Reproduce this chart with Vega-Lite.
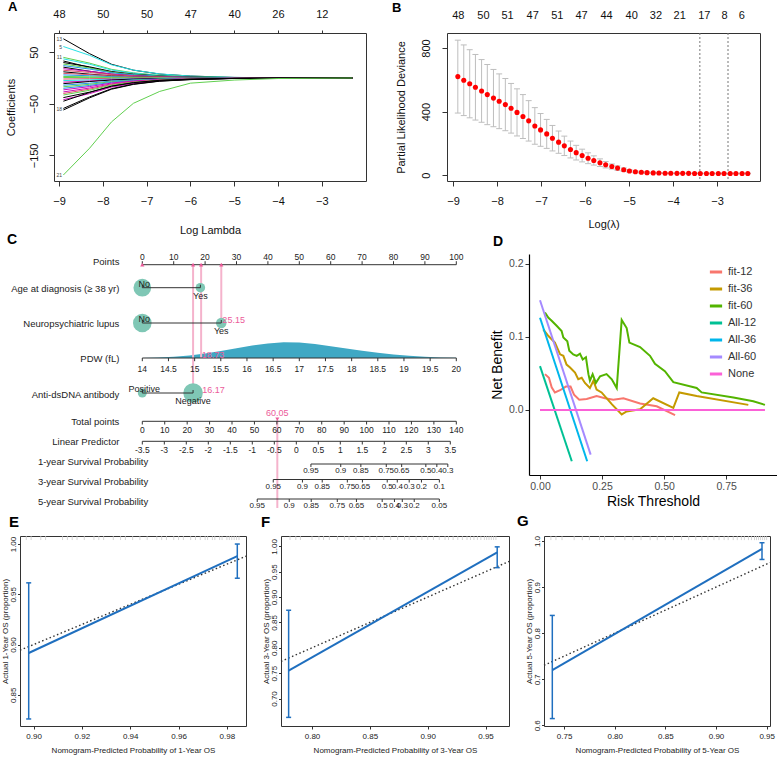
{
"$schema": "https://vega.github.io/schema/vega-lite/v6.json",
"background": "white",
"padding": {"left": 1, "top": 0, "right": 0, "bottom": 0},
"config": {
  "font": "Liberation Sans",
  "view": {"stroke": null},
  "axis": {"grid": false, "titleFontWeight": "normal", "labelColor": "#111", "titleColor": "#111", "tickColor": "#333", "domainColor": "#333", "labelFlush": false, "labelOverlap": false},
  "title": {"fontWeight": "bold", "anchor": "start", "frame": "group", "color": "#000"}
},
"datasets": {
  "lam": [{"k":"a","x":-8.9},{"k":"b","x":-8.3},{"k":"c","x":-7.8},{"k":"d","x":-7.3},{"k":"e","x":-6.7},{"k":"f","x":-6.0},{"k":"g","x":-5.0},{"k":"h","x":-4.0},{"k":"i","x":-2.3}],
  "coef": [
    {"s":1,"col":1,"a":76,"b":47.1,"c":26.6,"d":15.2,"e":7.6,"f":3.8,"g":1.1,"h":0.3,"i":0},
    {"s":2,"col":5,"a":61,"b":43.9,"c":25.6,"d":15.3,"e":7.9,"f":3.7,"g":1.2,"h":0.3,"i":0},
    {"s":3,"col":3,"a":40,"b":28.8,"c":16.8,"d":10,"e":5.2,"f":2.4,"g":0.8,"h":0.2,"i":0},
    {"s":4,"col":5,"a":37,"b":26.6,"c":15.5,"d":9.3,"e":4.8,"f":2.2,"g":0.7,"h":0.2,"i":0},
    {"s":5,"col":1,"a":33,"b":20.5,"c":11.6,"d":6.6,"e":3.3,"f":1.7,"g":0.5,"h":0.1,"i":0},
    {"s":6,"col":1,"a":30,"b":21.6,"c":12.6,"d":7.5,"e":3.9,"f":1.8,"g":0.6,"h":0.2,"i":0},
    {"s":7,"col":3,"a":27,"b":19.4,"c":11.3,"d":6.8,"e":3.5,"f":1.6,"g":0.5,"h":0.1,"i":0},
    {"s":8,"col":4,"a":24,"b":17.3,"c":10.1,"d":6,"e":3.1,"f":1.4,"g":0.5,"h":0.1,"i":0},
    {"s":9,"col":1,"a":21,"b":13,"c":7.4,"d":4.2,"e":2.1,"f":1.1,"g":0.3,"h":0.1,"i":0},
    {"s":10,"col":6,"a":18,"b":13,"c":7.6,"d":4.5,"e":2.3,"f":1.1,"g":0.4,"h":0.1,"i":0},
    {"s":11,"col":2,"a":15,"b":10.8,"c":6.3,"d":3.8,"e":2,"f":0.9,"g":0.3,"h":0.1,"i":0},
    {"s":12,"col":1,"a":12,"b":7.4,"c":4.2,"d":2.4,"e":1.2,"f":0.6,"g":0.2,"h":0,"i":0},
    {"s":13,"col":2,"a":9,"b":6.5,"c":3.8,"d":2.3,"e":1.2,"f":0.5,"g":0.2,"h":0,"i":0},
    {"s":14,"col":4,"a":6,"b":4.3,"c":2.5,"d":1.5,"e":0.8,"f":0.4,"g":0.1,"h":0,"i":0},
    {"s":15,"col":3,"a":3,"b":2.2,"c":1.3,"d":0.8,"e":0.4,"f":0.2,"g":0.1,"h":0,"i":0},
    {"s":16,"col":3,"a":1,"b":0.7,"c":0.4,"d":0.3,"e":0.1,"f":0.1,"g":0,"h":0,"i":0},
    {"s":17,"col":2,"a":-2,"b":-1.4,"c":-0.8,"d":-0.5,"e":-0.3,"f":-0.1,"g":0,"h":0,"i":0},
    {"s":18,"col":5,"a":-5,"b":-3.6,"c":-2.1,"d":-1.3,"e":-0.7,"f":-0.3,"g":-0.1,"h":0,"i":0},
    {"s":19,"col":6,"a":-8,"b":-5.8,"c":-3.4,"d":-2,"e":-1,"f":-0.5,"g":-0.2,"h":0,"i":0},
    {"s":20,"col":1,"a":-11,"b":-6.8,"c":-3.9,"d":-2.2,"e":-1.1,"f":-0.6,"g":-0.2,"h":0,"i":0},
    {"s":21,"col":4,"a":-14,"b":-10.1,"c":-5.9,"d":-3.5,"e":-1.8,"f":-0.8,"g":-0.3,"h":-0.1,"i":0},
    {"s":22,"col":3,"a":-17,"b":-12.2,"c":-7.1,"d":-4.3,"e":-2.2,"f":-1,"g":-0.3,"h":-0.1,"i":0},
    {"s":23,"col":4,"a":-20,"b":-14.4,"c":-8.4,"d":-5,"e":-2.6,"f":-1.2,"g":-0.4,"h":-0.1,"i":0},
    {"s":24,"col":6,"a":-23,"b":-16.6,"c":-9.7,"d":-5.8,"e":-3,"f":-1.4,"g":-0.5,"h":-0.1,"i":0},
    {"s":25,"col":6,"a":-27,"b":-19.4,"c":-11.3,"d":-6.8,"e":-3.5,"f":-1.6,"g":-0.5,"h":-0.1,"i":0},
    {"s":26,"col":2,"a":-30,"b":-21.6,"c":-12.6,"d":-7.5,"e":-3.9,"f":-1.8,"g":-0.6,"h":-0.2,"i":0},
    {"s":27,"col":3,"a":-33,"b":-23.8,"c":-13.9,"d":-8.3,"e":-4.3,"f":-2,"g":-0.7,"h":-0.2,"i":0},
    {"s":28,"col":1,"a":-38,"b":-27.4,"c":-16,"d":-9.5,"e":-4.9,"f":-2.3,"g":-0.8,"h":-0.2,"i":0},
    {"s":29,"col":6,"a":-42,"b":-30.2,"c":-17.6,"d":-10.5,"e":-5.5,"f":-2.5,"g":-0.8,"h":-0.2,"i":0},
    {"s":30,"col":1,"a":-45,"b":-27.9,"c":-15.8,"d":-9,"e":-4.5,"f":-2.3,"g":-0.7,"h":-0.2,"i":0},
    {"s":31,"col":1,"a":-59,"b":-36.6,"c":-20.7,"d":-11.8,"e":-5.9,"f":-3,"g":-0.9,"h":-0.2,"i":0},
    {"s":32,"col":1,"a":-62,"b":-38.4,"c":-21.7,"d":-12.4,"e":-6.2,"f":-3.1,"g":-0.9,"h":-0.2,"i":0},
    {"s":33,"col":3,"a":-188,"b":-136,"c":-85,"d":-49,"e":-26,"f":-10,"g":-4,"h":-1,"i":0}
  ],
  "alab": [{"lab":"13","y":76},{"lab":"5","y":61},{"lab":"11","y":40},{"lab":"18","y":-60},{"lab":"21","y":-188}],
  "adf": [{"x":-9,"df":48},{"x":-8,"df":50},{"x":-7,"df":50},{"x":-6,"df":47},{"x":-5,"df":40},{"x":-4,"df":26},{"x":-3,"df":12}],
  "cvb": [
    {"x":-8.89,"d":620,"lo":391,"hi":849},{"x":-8.755,"d":597,"lo":375,"hi":819},{"x":-8.62,"d":575,"lo":361,"hi":789},
    {"x":-8.49,"d":553,"lo":347,"hi":759},{"x":-8.35,"d":530,"lo":333,"hi":727},{"x":-8.22,"d":507,"lo":318,"hi":696},
    {"x":-8.08,"d":485,"lo":305,"hi":665},{"x":-7.95,"d":465,"lo":293,"hi":637},{"x":-7.81,"d":444,"lo":280,"hi":608},
    {"x":-7.68,"d":421,"lo":265,"hi":577},{"x":-7.545,"d":395,"lo":247,"hi":543},{"x":-7.41,"d":369,"lo":231,"hi":507},
    {"x":-7.28,"d":342,"lo":215,"hi":469},{"x":-7.14,"d":310,"lo":195,"hi":425},{"x":-7.01,"d":285,"lo":182,"hi":388},
    {"x":-6.87,"d":260,"lo":169,"hi":351},{"x":-6.74,"d":233,"lo":153,"hi":313},{"x":-6.6,"d":208,"lo":138,"hi":278},
    {"x":-6.47,"d":185,"lo":124,"hi":246},{"x":-6.33,"d":162,"lo":109,"hi":215},{"x":-6.2,"d":142,"lo":96,"hi":188},
    {"x":-6.065,"d":124,"lo":84,"hi":164},{"x":-5.93,"d":107,"lo":73,"hi":141},{"x":-5.8,"d":93,"lo":64,"hi":122},
    {"x":-5.66,"d":79,"lo":55,"hi":103},{"x":-5.53,"d":66,"lo":46,"hi":86},{"x":-5.39,"d":55,"lo":39,"hi":71},
    {"x":-5.26,"d":45,"lo":31,"hi":59},{"x":-5.12,"d":35,"lo":24,"hi":46},{"x":-4.99,"d":27,"lo":19,"hi":35},
    {"x":-4.855,"d":22,"lo":16,"hi":28},{"x":-4.72,"d":19,"lo":14,"hi":24},{"x":-4.59,"d":16.5,"lo":12.5,"hi":20.5},
    {"x":-4.45,"d":15,"lo":12,"hi":18},{"x":-4.32,"d":14,"lo":11.5,"hi":16.5},{"x":-4.18,"d":13,"lo":11,"hi":15},
    {"x":-4.05,"d":12.5,"lo":10.7,"hi":14.3},{"x":-3.91,"d":12,"lo":10.5,"hi":13.5},{"x":-3.78,"d":12,"lo":10.5,"hi":13.5},
    {"x":-3.645,"d":12,"lo":10.5,"hi":13.5},{"x":-3.51,"d":11.5,"lo":10,"hi":13},{"x":-3.38,"d":11.5,"lo":10,"hi":13},
    {"x":-3.24,"d":11,"lo":9.5,"hi":12.5},{"x":-3.11,"d":11,"lo":9.5,"hi":12.5},{"x":-2.97,"d":11,"lo":9.5,"hi":12.5},
    {"x":-2.84,"d":11,"lo":9.5,"hi":12.5},{"x":-2.7,"d":11,"lo":9.5,"hi":12.5},{"x":-2.57,"d":11,"lo":9.5,"hi":12.5},
    {"x":-2.43,"d":11,"lo":9.5,"hi":12.5},{"x":-2.3,"d":11,"lo":9.5,"hi":12.5}
  ],
  "bdf": [{"x":-8.89,"df":48},{"x":-8.32,"df":50},{"x":-7.77,"df":51},{"x":-7.2,"df":47},{"x":-6.64,"df":51},{"x":-6.09,"df":47},{"x":-5.52,"df":44},{"x":-4.95,"df":40},{"x":-4.4,"df":32},{"x":-3.86,"df":21},{"x":-3.3,"df":17},{"x":-2.84,"df":8},{"x":-2.45,"df":6}],
  "bvl": [{"x":-3.39},{"x":-2.75}],
  "nlabel": [
    {"text":"Points","ty":0.8,"kind":"main"},
    {"text":"Age at diagnosis (≥ 38 yr)","ty":3.5,"kind":"main"},
    {"text":"Neuropsychiatric lupus","ty":7.0,"kind":"main"},
    {"text":"PDW (fL)","ty":10.5,"kind":"main"},
    {"text":"Anti-dsDNA antibody","ty":14.1,"kind":"main"},
    {"text":"Total points","ty":16.8,"kind":"main"},
    {"text":"Linear Predictor","ty":18.8,"kind":"main"},
    {"text":"1-year Survival Probability","ty":20.8,"kind":"surv"},
    {"text":"3-year Survival Probability","ty":22.8,"kind":"surv"},
    {"text":"5-year Survival Probability","ty":24.8,"kind":"surv"}
  ],
  "naxis": [
    {"row":"Points","kind":"main","line":1.07,"tend":0.72,"tly":0.25,"from":0,"to":100},
    {"row":"PDW","kind":"main","line":10.4,"tend":10.72,"tly":11.45,"from":0,"to":100},
    {"row":"Total","kind":"main","line":16.73,"tend":17.05,"tly":17.55,"from":0,"to":100},
    {"row":"LP","kind":"main","line":18.73,"tend":19.05,"tly":19.55,"from":0,"to":98.09},
    {"row":"Y1","kind":"surv","line":21.0,"tend":21.3,"tly":21.7,"from":53.7,"to":97.3},
    {"row":"Y3","kind":"surv","line":22.55,"tend":22.85,"tly":23.25,"from":41.7,"to":94.6},
    {"row":"Y5","kind":"surv","line":24.5,"tend":24.8,"tly":25.2,"from":36.6,"to":94.6}
  ],
  "ntick": [
    {"row":"Points","pos":0,"lab":"0"},{"row":"Points","pos":10,"lab":"10"},{"row":"Points","pos":20,"lab":"20"},{"row":"Points","pos":30,"lab":"30"},{"row":"Points","pos":40,"lab":"40"},{"row":"Points","pos":50,"lab":"50"},{"row":"Points","pos":60,"lab":"60"},{"row":"Points","pos":70,"lab":"70"},{"row":"Points","pos":80,"lab":"80"},{"row":"Points","pos":90,"lab":"90"},{"row":"Points","pos":100,"lab":"100"},
    {"row":"PDW","pos":0,"lab":"14"},{"row":"PDW","pos":8.33,"lab":"14.5"},{"row":"PDW","pos":16.67,"lab":"15"},{"row":"PDW","pos":25,"lab":"15.5"},{"row":"PDW","pos":33.33,"lab":"16"},{"row":"PDW","pos":41.67,"lab":"16.5"},{"row":"PDW","pos":50,"lab":"17"},{"row":"PDW","pos":58.33,"lab":"17.5"},{"row":"PDW","pos":66.67,"lab":"18"},{"row":"PDW","pos":75,"lab":"18.5"},{"row":"PDW","pos":83.33,"lab":"19"},{"row":"PDW","pos":91.67,"lab":"19.5"},{"row":"PDW","pos":100,"lab":"20"},
    {"row":"Total","pos":0,"lab":"0"},{"row":"Total","pos":7.14,"lab":"10"},{"row":"Total","pos":14.29,"lab":"20"},{"row":"Total","pos":21.43,"lab":"30"},{"row":"Total","pos":28.57,"lab":"40"},{"row":"Total","pos":35.71,"lab":"50"},{"row":"Total","pos":42.86,"lab":"60"},{"row":"Total","pos":50,"lab":"70"},{"row":"Total","pos":57.14,"lab":"80"},{"row":"Total","pos":64.29,"lab":"90"},{"row":"Total","pos":71.43,"lab":"100"},{"row":"Total","pos":78.57,"lab":"110"},{"row":"Total","pos":85.71,"lab":"120"},{"row":"Total","pos":92.86,"lab":"130"},{"row":"Total","pos":100,"lab":"140"},
    {"row":"LP","pos":0,"lab":"-3.5"},{"row":"LP","pos":7.01,"lab":"-3"},{"row":"LP","pos":14.01,"lab":"-2.5"},{"row":"LP","pos":21.02,"lab":"-2"},{"row":"LP","pos":28.03,"lab":"-1.5"},{"row":"LP","pos":35.03,"lab":"-1"},{"row":"LP","pos":42.04,"lab":"-0.5"},{"row":"LP","pos":49.05,"lab":"0"},{"row":"LP","pos":56.05,"lab":"0.5"},{"row":"LP","pos":63.06,"lab":"1"},{"row":"LP","pos":70.06,"lab":"1.5"},{"row":"LP","pos":77.07,"lab":"2"},{"row":"LP","pos":84.08,"lab":"2.5"},{"row":"LP","pos":91.08,"lab":"3"},{"row":"LP","pos":98.09,"lab":"3.5"},
    {"row":"Y1","pos":53.7,"lab":"0.95"},{"row":"Y1","pos":63.2,"lab":"0.9"},{"row":"Y1","pos":69.6,"lab":"0.85"},{"row":"Y1","pos":77.7,"lab":"0.75"},{"row":"Y1","pos":82.6,"lab":"0.65"},{"row":"Y1","pos":90.3,"lab":"0.5"},{"row":"Y1","pos":93.8,"lab":"0.4"},{"row":"Y1","pos":97.3,"lab":"0.3"},
    {"row":"Y3","pos":41.7,"lab":"0.95"},{"row":"Y3","pos":51.0,"lab":"0.9"},{"row":"Y3","pos":57.3,"lab":"0.85"},{"row":"Y3","pos":65.3,"lab":"0.75"},{"row":"Y3","pos":70.1,"lab":"0.65"},{"row":"Y3","pos":78.0,"lab":"0.5"},{"row":"Y3","pos":81.2,"lab":"0.4"},{"row":"Y3","pos":85.0,"lab":"0.3"},{"row":"Y3","pos":88.9,"lab":"0.2"},{"row":"Y3","pos":94.6,"lab":"0.1"},
    {"row":"Y5","pos":36.6,"lab":"0.95"},{"row":"Y5","pos":46.8,"lab":"0.9"},{"row":"Y5","pos":53.8,"lab":"0.85"},{"row":"Y5","pos":62.1,"lab":"0.75"},{"row":"Y5","pos":68.2,"lab":"0.65"},{"row":"Y5","pos":76.4,"lab":"0.5"},{"row":"Y5","pos":80.3,"lab":"0.4"},{"row":"Y5","pos":82.8,"lab":"0.3"},{"row":"Y5","pos":86.6,"lab":"0.2"},{"row":"Y5","pos":94.6,"lab":"0.05"}
  ],
  "ncat": [
    {"row":"Age","line":3.37,"pos":0,"n":314,"text":"No","side":"above"},
    {"row":"Age","line":3.37,"pos":18.5,"n":90,"text":"Yes","side":"below"},
    {"row":"Neuro","line":6.9,"pos":0,"n":346,"text":"No","side":"above"},
    {"row":"Neuro","line":6.9,"pos":25.15,"n":110,"text":"Yes","side":"below"},
    {"row":"Anti","line":13.9,"pos":0,"n":80,"text":"Positive","side":"above"},
    {"row":"Anti","line":13.9,"pos":16.17,"n":380,"text":"Negative","side":"below"}
  ],
  "nseg": [{"line":3.37,"from":0,"to":18.5},{"line":6.9,"from":0,"to":25.15},{"line":13.9,"from":0,"to":16.17}],
  "ndens": [{"pos":0,"top":10.4},{"pos":5,"top":10.35},{"pos":10,"top":10.28},{"pos":15,"top":10.15},{"pos":20,"top":9.95},{"pos":25,"top":9.7},{"pos":30,"top":9.42},{"pos":35,"top":9.15},{"pos":40,"top":8.94},{"pos":45,"top":8.82},{"pos":50,"top":8.85},{"pos":55,"top":9.0},{"pos":60,"top":9.22},{"pos":65,"top":9.45},{"pos":70,"top":9.68},{"pos":75,"top":9.88},{"pos":80,"top":10.04},{"pos":85,"top":10.17},{"pos":90,"top":10.27},{"pos":95,"top":10.34},{"pos":100,"top":10.38}],
  "npl": [{"pos":16.17,"y1":1.07,"y2":13.9},{"pos":18.73,"y1":1.07,"y2":10.4},{"pos":25.15,"y1":1.07,"y2":6.9},{"pos":43.0,"y1":16.6,"y2":25.4}],
  "npt": [{"pos":0,"line":1.07},{"pos":16.17,"line":1.07},{"pos":18.73,"line":1.07},{"pos":25.15,"line":1.07}],
  "nptext": [{"tx":25.5,"line":6.9,"text":"25.15"},{"tx":18.9,"line":10.4,"text":"18.73"},{"tx":19.1,"line":13.9,"text":"16.17"}],
  "ntot": [{"pos":43.0,"line":16.73,"text":"60.05"}],
  "dca": [
    {"m":"fit-12","t":0.02,"nb":0.049},{"m":"fit-12","t":0.036,"nb":0.044},{"m":"fit-12","t":0.047,"nb":0.031},{"m":"fit-12","t":0.06,"nb":0.024},{"m":"fit-12","t":0.081,"nb":0.027},{"m":"fit-12","t":0.104,"nb":0.032},{"m":"fit-12","t":0.123,"nb":0.032},{"m":"fit-12","t":0.137,"nb":0.021},{"m":"fit-12","t":0.158,"nb":0.014},{"m":"fit-12","t":0.188,"nb":0.015},{"m":"fit-12","t":0.228,"nb":0.019},{"m":"fit-12","t":0.262,"nb":0.016},{"m":"fit-12","t":0.295,"nb":0.014},{"m":"fit-12","t":0.336,"nb":0.016},{"m":"fit-12","t":0.403,"nb":0.009},{"m":"fit-12","t":0.47,"nb":0.005},{"m":"fit-12","t":0.544,"nb":-0.007},
    {"m":"fit-36","t":0.013,"nb":0.110},{"m":"fit-36","t":0.034,"nb":0.101},{"m":"fit-36","t":0.06,"nb":0.092},{"m":"fit-36","t":0.081,"nb":0.076},{"m":"fit-36","t":0.094,"nb":0.074},{"m":"fit-36","t":0.107,"nb":0.062},{"m":"fit-36","t":0.121,"nb":0.058},{"m":"fit-36","t":0.141,"nb":0.051},{"m":"fit-36","t":0.154,"nb":0.042},{"m":"fit-36","t":0.168,"nb":0.044},{"m":"fit-36","t":0.181,"nb":0.037},{"m":"fit-36","t":0.201,"nb":0.030},{"m":"fit-36","t":0.215,"nb":0.040},{"m":"fit-36","t":0.228,"nb":0.028},{"m":"fit-36","t":0.248,"nb":0.024},{"m":"fit-36","t":0.289,"nb":0.008},{"m":"fit-36","t":0.329,"nb":-0.006},{"m":"fit-36","t":0.349,"nb":-0.002},{"m":"fit-36","t":0.403,"nb":0.001},{"m":"fit-36","t":0.456,"nb":0.016},{"m":"fit-36","t":0.537,"nb":0.003},{"m":"fit-36","t":0.561,"nb":0.024},{"m":"fit-36","t":0.631,"nb":0.019},{"m":"fit-36","t":0.839,"nb":0.007},
    {"m":"fit-60","t":0.020,"nb":0.133},{"m":"fit-60","t":0.034,"nb":0.126},{"m":"fit-60","t":0.047,"nb":0.122},{"m":"fit-60","t":0.067,"nb":0.115},{"m":"fit-60","t":0.087,"nb":0.108},{"m":"fit-60","t":0.094,"nb":0.099},{"m":"fit-60","t":0.110,"nb":0.094},{"m":"fit-60","t":0.118,"nb":0.081},{"m":"fit-60","t":0.134,"nb":0.076},{"m":"fit-60","t":0.148,"nb":0.074},{"m":"fit-60","t":0.161,"nb":0.077},{"m":"fit-60","t":0.172,"nb":0.069},{"m":"fit-60","t":0.185,"nb":0.072},{"m":"fit-60","t":0.195,"nb":0.049},{"m":"fit-60","t":0.201,"nb":0.040},{"m":"fit-60","t":0.212,"nb":0.049},{"m":"fit-60","t":0.225,"nb":0.037},{"m":"fit-60","t":0.242,"nb":0.046},{"m":"fit-60","t":0.268,"nb":0.049},{"m":"fit-60","t":0.289,"nb":0.042},{"m":"fit-60","t":0.309,"nb":0.030},{"m":"fit-60","t":0.329,"nb":0.123},{"m":"fit-60","t":0.349,"nb":0.112},{"m":"fit-60","t":0.360,"nb":0.092},{"m":"fit-60","t":0.403,"nb":0.086},{"m":"fit-60","t":0.443,"nb":0.074},{"m":"fit-60","t":0.463,"nb":0.063},{"m":"fit-60","t":0.503,"nb":0.053},{"m":"fit-60","t":0.537,"nb":0.038},{"m":"fit-60","t":0.631,"nb":0.030},{"m":"fit-60","t":0.651,"nb":0.024},{"m":"fit-60","t":0.779,"nb":0.017},{"m":"fit-60","t":0.859,"nb":0.012},{"m":"fit-60","t":0.906,"nb":0.007},
    {"m":"All-12","t":0,"nb":0.06},{"m":"All-12","t":0.128,"nb":-0.07},
    {"m":"All-36","t":0,"nb":0.126},{"m":"All-36","t":0.19,"nb":-0.07},
    {"m":"All-60","t":0,"nb":0.15},{"m":"All-60","t":0.204,"nb":-0.061},
    {"m":"None","t":0,"nb":0},{"m":"None","t":0.906,"nb":0}
  ],
  "cal": [
    {"p":"E","x":0.898,"y":0.8916,"lo":0.826,"hi":0.9614},{"p":"E","x":0.9843,"y":0.988,"lo":0.966,"hi":1.0},
    {"p":"F","x":0.7798,"y":0.755,"lo":0.6628,"hi":0.874},{"p":"F","x":0.9601,"y":0.988,"lo":0.958,"hi":0.999},
    {"p":"G","x":0.7384,"y":0.72,"lo":0.6146,"hi":0.8385},{"p":"G","x":0.9454,"y":0.983,"lo":0.96,"hi":0.9963}
  ],
  "ideal": [{"p":"E","v":0.8944},{"p":"E","v":0.9879},{"p":"F","v":0.7732},{"p":"F","v":0.9703},{"p":"G","v":0.7302},{"p":"G","v":0.9533}],
  "rug": [
    {"p":"E","x":0.897},{"p":"E","x":0.899},{"p":"E","x":0.903},{"p":"E","x":0.905},{"p":"E","x":0.912},{"p":"E","x":0.914},{"p":"E","x":0.916},{"p":"E","x":0.918},{"p":"E","x":0.921},{"p":"E","x":0.925},{"p":"E","x":0.927},{"p":"E","x":0.929},{"p":"E","x":0.933},{"p":"E","x":0.936},{"p":"E","x":0.938},{"p":"E","x":0.941},{"p":"E","x":0.944},{"p":"E","x":0.947},{"p":"E","x":0.951},{"p":"E","x":0.953},{"p":"E","x":0.955},{"p":"E","x":0.958},{"p":"E","x":0.96},{"p":"E","x":0.962},{"p":"E","x":0.965},{"p":"E","x":0.967},{"p":"E","x":0.969},{"p":"E","x":0.971},{"p":"E","x":0.972},{"p":"E","x":0.974},{"p":"E","x":0.975},{"p":"E","x":0.977},{"p":"E","x":0.978},{"p":"E","x":0.98},{"p":"E","x":0.981},{"p":"E","x":0.982},{"p":"E","x":0.983},{"p":"E","x":0.984},{"p":"E","x":0.985},
    {"p":"F","x":0.781},{"p":"F","x":0.786},{"p":"F","x":0.79},{"p":"F","x":0.8},{"p":"F","x":0.806},{"p":"F","x":0.81},{"p":"F","x":0.815},{"p":"F","x":0.822},{"p":"F","x":0.828},{"p":"F","x":0.832},{"p":"F","x":0.838},{"p":"F","x":0.845},{"p":"F","x":0.85},{"p":"F","x":0.856},{"p":"F","x":0.862},{"p":"F","x":0.868},{"p":"F","x":0.874},{"p":"F","x":0.88},{"p":"F","x":0.884},{"p":"F","x":0.89},{"p":"F","x":0.895},{"p":"F","x":0.9},{"p":"F","x":0.905},{"p":"F","x":0.91},{"p":"F","x":0.915},{"p":"F","x":0.918},{"p":"F","x":0.922},{"p":"F","x":0.926},{"p":"F","x":0.93},{"p":"F","x":0.934},{"p":"F","x":0.937},{"p":"F","x":0.94},{"p":"F","x":0.943},{"p":"F","x":0.946},{"p":"F","x":0.949},{"p":"F","x":0.951},{"p":"F","x":0.953},{"p":"F","x":0.955},{"p":"F","x":0.957},{"p":"F","x":0.959},
    {"p":"G","x":0.737},{"p":"G","x":0.742},{"p":"G","x":0.748},{"p":"G","x":0.76},{"p":"G","x":0.768},{"p":"G","x":0.775},{"p":"G","x":0.785},{"p":"G","x":0.79},{"p":"G","x":0.8},{"p":"G","x":0.81},{"p":"G","x":0.818},{"p":"G","x":0.826},{"p":"G","x":0.835},{"p":"G","x":0.842},{"p":"G","x":0.85},{"p":"G","x":0.858},{"p":"G","x":0.866},{"p":"G","x":0.873},{"p":"G","x":0.88},{"p":"G","x":0.886},{"p":"G","x":0.892},{"p":"G","x":0.898},{"p":"G","x":0.903},{"p":"G","x":0.908},{"p":"G","x":0.912},{"p":"G","x":0.917},{"p":"G","x":0.921},{"p":"G","x":0.925},{"p":"G","x":0.928},{"p":"G","x":0.932},{"p":"G","x":0.935},{"p":"G","x":0.938},{"p":"G","x":0.94},{"p":"G","x":0.942},{"p":"G","x":0.944},{"p":"G","x":0.946},{"p":"G","x":0.948},{"p":"G","x":0.95}
  ]
},
"spacing": -4,
"resolve": {"scale": {"color": "independent", "size": "independent"}},
"vconcat": [
 {"hconcat": [
   {"width": 33.3, "height": 148, "data": {"values": []}, "mark": "point"},
   {"width": 312, "height": 148,
    "view": {"stroke": "#333"},
    "title": {"text": "A", "dx": -46, "dy": 10, "offset": 4, "fontSize": 13},
    "layer": [
      {"layer": [
        {"data": {"name": "coef"},
         "transform": [{"fold": ["a","b","c","d","e","f","g","h","i"], "as": ["k","y"]}, {"lookup": "k", "from": {"data": {"name": "lam"}, "key": "k", "fields": ["x"]}}],
         "mark": {"type": "line", "strokeWidth": 1},
         "encoding": {
           "x": {"field": "x", "type": "quantitative", "scale": {"domain": [-9.114, -1.99], "nice": false, "zero": false},
                 "axis": {"values": [-9,-8,-7,-6,-5,-4,-3], "title": "Log Lambda", "domain": false, "tickSize": 5, "labelFontSize": 11, "labelPadding": 9, "titleFontSize": 11, "titlePadding": 18}},
           "y": {"field": "y", "type": "quantitative", "scale": {"domain": [-199.6, 87.2], "nice": false, "zero": false},
                 "axis": {"values": [-150,-100,-50,0,50], "labelExpr": "datum.value == -100 ? '' : datum.label", "title": "Coefficients", "labelAngle": 270, "labelAlign": "center", "labelBaseline": "bottom", "domain": false, "tickSize": 5, "labelFontSize": 11, "labelPadding": 10, "titleFontSize": 11, "titlePadding": 12}},
           "color": {"field": "col", "type": "nominal", "scale": {"domain": [1,2,3,4,5,6], "range": ["#000000","#DF536B","#61D04F","#2297E6","#28E2E5","#CD0BBC"]}, "legend": null},
           "detail": {"field": "s", "type": "nominal"}
         }},
        {"data": {"name": "alab"}, "mark": {"type": "text", "fontSize": 5, "align": "right", "color": "#444"},
         "encoding": {"x": {"datum": -8.93}, "y": {"field": "y", "type": "quantitative", "title": "Coefficients"}, "text": {"field": "lab"}}}
      ]},
      {"data": {"name": "adf"}, "mark": {"type": "point", "opacity": 0},
       "encoding": {"x": {"field": "x", "type": "quantitative", "scale": {"domain": [-9.114, -1.99], "nice": false, "zero": false},
         "axis": {"orient": "top", "values": [-9,-8,-7,-6,-5,-4,-3], "labelExpr": "['48','50','50','47','40','26','12'][datum.value + 9]", "title": null, "domain": false, "tickSize": 3, "labelFontSize": 11, "labelPadding": 11}}}}
    ],
    "resolve": {"scale": {"x": "independent"}}
   },
   {"width": 81, "height": 148, "data": {"values": []}, "mark": "point"},
   {"width": 313, "height": 148,
    "view": {"stroke": "#333"},
    "title": {"text": "B", "dx": -55, "dy": 10, "offset": 4, "fontSize": 13},
    "layer": [
      {"layer": [
        {"data": {"name": "cvb"}, "mark": {"type": "rule", "color": "#BEBEBE", "strokeWidth": 1},
         "encoding": {
           "x": {"field": "x", "type": "quantitative", "scale": {"domain": [-9.136, -2.023], "nice": false, "zero": false},
                 "axis": {"values": [-9,-8,-7,-6,-5,-4,-3], "title": "Log(λ)", "domain": false, "tickSize": 5, "labelFontSize": 11, "labelPadding": 9, "titleFontSize": 11, "titlePadding": 12}},
           "y": {"field": "lo", "type": "quantitative", "scale": {"domain": [-36, 894], "nice": false, "zero": false},
                 "axis": {"values": [0,200,400,600,800], "title": "Partial Likelihood Deviance", "labelAngle": 270, "labelAlign": "center", "labelBaseline": "bottom", "domain": false, "tickSize": 5, "labelFontSize": 11, "labelPadding": 10.5, "titleFontSize": 11, "titlePadding": 14}},
           "y2": {"field": "hi"}
         }},
        {"data": {"name": "cvb"}, "mark": {"type": "point", "shape": "stroke", "color": "#BEBEBE", "size": 36, "strokeWidth": 1, "opacity": 1},
         "encoding": {"x": {"field": "x", "type": "quantitative"}, "y": {"field": "hi", "type": "quantitative", "title": "Partial Likelihood Deviance"}}},
        {"data": {"name": "cvb"}, "mark": {"type": "point", "shape": "stroke", "color": "#BEBEBE", "size": 36, "strokeWidth": 1, "opacity": 1},
         "encoding": {"x": {"field": "x", "type": "quantitative"}, "y": {"field": "lo", "type": "quantitative", "title": "Partial Likelihood Deviance"}}},
        {"data": {"name": "bvl"}, "mark": {"type": "rule", "strokeDash": [2, 2], "color": "#777", "strokeWidth": 1},
         "encoding": {"x": {"field": "x", "type": "quantitative"}}},
        {"data": {"name": "cvb"}, "mark": {"type": "point", "filled": true, "color": "#FF0000", "size": 26, "opacity": 1},
         "encoding": {"x": {"field": "x", "type": "quantitative"}, "y": {"field": "d", "type": "quantitative", "title": "Partial Likelihood Deviance"}}}
      ]},
      {"data": {"name": "bdf"}, "mark": {"type": "point", "opacity": 0},
       "encoding": {"x": {"field": "x", "type": "quantitative", "scale": {"domain": [-9.136, -2.023], "nice": false, "zero": false},
         "axis": {"orient": "top", "values": [-8.89,-8.32,-7.77,-7.2,-6.64,-6.09,-5.52,-4.95,-4.4,-3.86,-3.3,-2.84,-2.45], "labelExpr": "['48','50','51','47','51','47','44','40','32','21','17','8','6'][indexof([-8.89,-8.32,-7.77,-7.2,-6.64,-6.09,-5.52,-4.95,-4.4,-3.86,-3.3,-2.84,-2.45], datum.value)]", "title": null, "domain": false, "ticks": false, "labelFontSize": 11, "labelPadding": 13}}}}
    ],
    "resolve": {"scale": {"x": "independent"}}
   }
 ], "spacing": 0, "bounds": "flush"},
 {"hconcat": [
   {"width": 508.3, "height": 263,
    "title": {"text": "C", "dx": -13, "fontSize": 14, "offset": 6},
    "encoding": {
      "x": {"type": "quantitative", "scale": {"domain": [-38.95, 122.93], "nice": false, "zero": false}, "axis": null},
      "y": {"type": "quantitative", "scale": {"domain": [0, 26.3], "reverse": true, "nice": false, "zero": false}, "axis": null}
    },
    "layer": [
      {"data": {"name": "ndens"}, "mark": {"type": "area", "color": "#3FA8C4", "opacity": 1},
       "encoding": {"x": {"field": "pos", "type": "quantitative"}, "y": {"field": "top", "type": "quantitative"}, "y2": {"datum": 10.4}}},
      {"data": {"name": "npl"}, "mark": {"type": "rule", "color": "#F5B3CC", "strokeWidth": 2},
       "encoding": {"x": {"field": "pos", "type": "quantitative"}, "y": {"field": "y1", "type": "quantitative"}, "y2": {"field": "y2"}}},
      {"data": {"name": "naxis"}, "mark": {"type": "rule", "color": "#333", "strokeWidth": 1},
       "encoding": {"x": {"field": "from", "type": "quantitative"}, "x2": {"field": "to"}, "y": {"field": "line", "type": "quantitative"}}},
      {"data": {"name": "ntick"},
       "transform": [{"lookup": "row", "from": {"data": {"name": "naxis"}, "key": "row", "fields": ["line", "tend", "tly", "kind"]}}],
       "layer": [
         {"mark": {"type": "rule", "color": "#333", "strokeWidth": 1},
          "encoding": {"x": {"field": "pos", "type": "quantitative"}, "y": {"field": "line", "type": "quantitative"}, "y2": {"field": "tend"}}},
         {"transform": [{"filter": "datum.kind == 'main'"}],
          "mark": {"type": "text", "fontSize": 8.5, "baseline": "middle", "color": "#222"},
          "encoding": {"x": {"field": "pos", "type": "quantitative"}, "y": {"field": "tly", "type": "quantitative"}, "text": {"field": "lab"}}},
         {"transform": [{"filter": "datum.kind == 'surv'"}],
          "mark": {"type": "text", "fontSize": 8, "baseline": "middle", "color": "#222"},
          "encoding": {"x": {"field": "pos", "type": "quantitative"}, "y": {"field": "tly", "type": "quantitative"}, "text": {"field": "lab"}}}
       ]},
      {"data": {"name": "ncat"}, "mark": {"type": "point", "filled": true, "color": "#7FC7B5", "opacity": 1},
       "encoding": {"x": {"field": "pos", "type": "quantitative"}, "y": {"field": "line", "type": "quantitative"},
                    "size": {"field": "n", "type": "quantitative", "scale": {"type": "linear", "domain": [0, 400], "range": [0, 400]}, "legend": null}}},
      {"data": {"name": "nseg"}, "mark": {"type": "rule", "color": "#333", "strokeWidth": 1},
       "encoding": {"x": {"field": "from", "type": "quantitative"}, "x2": {"field": "to"}, "y": {"field": "line", "type": "quantitative"}}},
      {"data": {"name": "ncat"}, "mark": {"type": "point", "shape": "M0,-1L0,0", "size": 36, "color": "#333", "strokeWidth": 1, "opacity": 1},
       "encoding": {"x": {"field": "pos", "type": "quantitative"}, "y": {"field": "line", "type": "quantitative"}}},
      {"data": {"name": "ncat"}, "transform": [{"filter": "datum.side == 'above'"}],
       "mark": {"type": "text", "fontSize": 9, "dy": -4, "dx": 2, "color": "#222"},
       "encoding": {"x": {"field": "pos", "type": "quantitative"}, "y": {"field": "line", "type": "quantitative"}, "text": {"field": "text"}}},
      {"data": {"name": "ncat"}, "transform": [{"filter": "datum.side == 'below'"}],
       "mark": {"type": "text", "fontSize": 9, "dy": 8, "color": "#222"},
       "encoding": {"x": {"field": "pos", "type": "quantitative"}, "y": {"field": "line", "type": "quantitative"}, "text": {"field": "text"}}},
      {"data": {"name": "nlabel"}, "transform": [{"filter": "datum.kind == 'main'"}],
       "mark": {"type": "text", "fontSize": 9.5, "align": "right", "baseline": "middle", "color": "#222"},
       "encoding": {"x": {"datum": -7.3}, "y": {"field": "ty", "type": "quantitative"}, "text": {"field": "text"}}},
      {"data": {"name": "nlabel"}, "transform": [{"filter": "datum.kind == 'surv'"}],
       "mark": {"type": "text", "fontSize": 9.5, "align": "right", "baseline": "middle", "color": "#222"},
       "encoding": {"x": {"datum": 1.9}, "y": {"field": "ty", "type": "quantitative"}, "text": {"field": "text"}}},
      {"data": {"name": "npt"}, "mark": {"type": "point", "shape": "triangle-up", "filled": true, "size": 18, "color": "#EC5B9A", "opacity": 1},
       "encoding": {"x": {"field": "pos", "type": "quantitative"}, "y": {"field": "line", "type": "quantitative"}}},
      {"data": {"name": "nptext"}, "mark": {"type": "text", "fontSize": 9, "align": "left", "dy": -3, "color": "#EC5B9A"},
       "encoding": {"x": {"field": "tx", "type": "quantitative"}, "y": {"field": "line", "type": "quantitative"}, "text": {"field": "text"}}},
      {"data": {"name": "ntot"}, "mark": {"type": "text", "fontSize": 9, "align": "center", "dy": -8, "color": "#EC5B9A"},
       "encoding": {"x": {"field": "pos", "type": "quantitative"}, "y": {"field": "line", "type": "quantitative"}, "text": {"field": "text"}}},
      {"data": {"name": "ntot"}, "mark": {"type": "point", "shape": "triangle-down", "filled": true, "size": 16, "color": "#EC5B9A", "opacity": 1, "yOffset": -2},
       "encoding": {"x": {"field": "pos", "type": "quantitative"}, "y": {"field": "line", "type": "quantitative"}}}
    ]
   },
   {"width": 248, "height": 221,
    "title": {"text": "D", "dx": -36, "fontSize": 14, "offset": 5},
    "data": {"name": "dca"},
    "mark": {"type": "line", "strokeWidth": 2},
    "encoding": {
      "x": {"field": "t", "type": "quantitative", "scale": {"domain": [-0.0443, 0.9545], "nice": false, "zero": false},
            "axis": {"values": [0, 0.25, 0.5, 0.75], "format": ".2f", "title": "Risk Threshold", "domainColor": "#000", "domainWidth": 1.2, "tickColor": "#333", "tickSize": 4, "labelColor": "#4D4D4D", "labelFontSize": 10.5, "labelPadding": 2, "titleFontSize": 14, "titlePadding": 3, "titleColor": "#000"}},
      "y": {"field": "nb", "type": "quantitative", "scale": {"domain": [-0.0888, 0.2131], "nice": false, "zero": false},
            "axis": {"values": [0, 0.1, 0.2], "format": ".1f", "title": "Net Benefit", "domainColor": "#000", "domainWidth": 1.2, "tickColor": "#333", "tickSize": 4, "labelColor": "#4D4D4D", "labelFontSize": 10.5, "labelPadding": 2, "titleFontSize": 14, "titlePadding": 4, "titleColor": "#000"}},
      "color": {"field": "m", "type": "nominal",
                "scale": {"domain": ["fit-12","fit-36","fit-60","All-12","All-36","All-60","None"], "range": ["#F8766D","#C49A00","#53B400","#00C094","#00B6EB","#A58AFF","#FB61D7"]},
                "legend": {"title": null, "orient": "none", "legendX": 179, "legendY": 10, "direction": "vertical", "symbolType": "stroke", "symbolStrokeWidth": 3, "symbolSize": 150, "labelFontSize": 11, "labelColor": "#333", "rowPadding": 3, "padding": 0}}
    }
   }
 ], "spacing": 0, "bounds": "flush", "resolve": {"scale": {"color": "independent", "size": "independent"}}},
 {"hconcat": [
   {"width": 226, "height": 190, "view": {"stroke": "#333"},
    "title": {"text": "E", "dx": -11, "fontSize": 15, "offset": 6},
    "encoding": {
      "x": {"type": "quantitative", "scale": {"domain": [0.8944, 0.9879], "nice": false, "zero": false},
            "axis": {"values": [0.90, 0.92, 0.94, 0.96, 0.98], "format": ".2f", "title": "Nomogram-Predicted Probability of 1-Year OS", "domain": false, "tickSize": 3, "labelFontSize": 8, "labelPadding": 3, "titleFontSize": 8, "titlePadding": 6, "labelColor": "#222", "titleColor": "#222"}},
      "y": {"type": "quantitative", "scale": {"domain": [0.819, 1.008], "nice": false, "zero": false},
            "axis": {"values": [0.85, 0.90, 0.95, 1.00], "format": ".2f", "title": "Actual 1-Year OS (proportion)", "labelAngle": 270, "labelAlign": "center", "labelBaseline": "bottom", "domain": false, "tickSize": 2.5, "labelFontSize": 8, "labelPadding": 0, "titleFontSize": 8, "titlePadding": 0, "labelColor": "#222", "titleColor": "#222"}}
    },
    "layer": [
      {"data": {"name": "rug"}, "transform": [{"filter": "datum.p == 'E'"}], "mark": {"type": "rule", "color": "#C8C8C8", "strokeWidth": 0.8},
       "encoding": {"x": {"field": "x"}, "y": {"datum": 1.008}, "y2": {"datum": 1.004}}},
      {"data": {"name": "ideal"}, "transform": [{"filter": "datum.p == 'E'"}], "mark": {"type": "line", "strokeDash": [1.5, 2.5], "color": "#333", "strokeWidth": 1.4},
       "encoding": {"x": {"field": "v"}, "y": {"field": "v"}}},
      {"data": {"name": "cal"}, "transform": [{"filter": "datum.p == 'E'"}],
       "layer": [
         {"mark": {"type": "line", "color": "#1F6FBF", "strokeWidth": 2}, "encoding": {"x": {"field": "x"}, "y": {"field": "y"}}},
         {"mark": {"type": "rule", "color": "#1F6FBF", "strokeWidth": 1.5}, "encoding": {"x": {"field": "x"}, "y": {"field": "lo"}, "y2": {"field": "hi"}}},
         {"mark": {"type": "point", "shape": "stroke", "size": 25, "color": "#1F6FBF", "strokeWidth": 1.5, "opacity": 1}, "encoding": {"x": {"field": "x"}, "y": {"field": "lo"}}},
         {"mark": {"type": "point", "shape": "stroke", "size": 25, "color": "#1F6FBF", "strokeWidth": 1.5, "opacity": 1}, "encoding": {"x": {"field": "x"}, "y": {"field": "hi"}}}
       ]}
    ]
   },
   {"width": 228, "height": 190, "view": {"stroke": "#333"},
    "title": {"text": "F", "dx": -20, "fontSize": 15, "offset": 6},
    "encoding": {
      "x": {"type": "quantitative", "scale": {"domain": [0.7732, 0.9703], "nice": false, "zero": false},
            "axis": {"values": [0.80, 0.85, 0.90, 0.95], "format": ".2f", "title": "Nomogram-Predicted Probability of 3-Year OS", "domain": false, "tickSize": 3, "labelFontSize": 8, "labelPadding": 3, "titleFontSize": 8, "titlePadding": 6, "labelColor": "#222", "titleColor": "#222"}},
      "y": {"type": "quantitative", "scale": {"domain": [0.6458, 1.0204], "nice": false, "zero": false},
            "axis": {"values": [0.70, 0.75, 0.80, 0.85, 0.90, 0.95, 1.00], "format": ".2f", "title": "Actual 3-Year OS (proportion)", "labelAngle": 270, "labelAlign": "center", "labelBaseline": "bottom", "domain": false, "tickSize": 2.5, "labelFontSize": 8, "labelPadding": 0, "titleFontSize": 8, "titlePadding": 0, "labelColor": "#222", "titleColor": "#222"}}
    },
    "layer": [
      {"data": {"name": "rug"}, "transform": [{"filter": "datum.p == 'F'"}], "mark": {"type": "rule", "color": "#C8C8C8", "strokeWidth": 0.8},
       "encoding": {"x": {"field": "x"}, "y": {"datum": 1.0204}, "y2": {"datum": 1.0125}}},
      {"data": {"name": "ideal"}, "transform": [{"filter": "datum.p == 'F'"}], "mark": {"type": "line", "strokeDash": [1.5, 2.5], "color": "#333", "strokeWidth": 1.4},
       "encoding": {"x": {"field": "v"}, "y": {"field": "v"}}},
      {"data": {"name": "cal"}, "transform": [{"filter": "datum.p == 'F'"}],
       "layer": [
         {"mark": {"type": "line", "color": "#1F6FBF", "strokeWidth": 2}, "encoding": {"x": {"field": "x"}, "y": {"field": "y"}}},
         {"mark": {"type": "rule", "color": "#1F6FBF", "strokeWidth": 1.5}, "encoding": {"x": {"field": "x"}, "y": {"field": "lo"}, "y2": {"field": "hi"}}},
         {"mark": {"type": "point", "shape": "stroke", "size": 25, "color": "#1F6FBF", "strokeWidth": 1.5, "opacity": 1}, "encoding": {"x": {"field": "x"}, "y": {"field": "lo"}}},
         {"mark": {"type": "point", "shape": "stroke", "size": 25, "color": "#1F6FBF", "strokeWidth": 1.5, "opacity": 1}, "encoding": {"x": {"field": "x"}, "y": {"field": "hi"}}}
       ]}
    ]
   },
   {"width": 226, "height": 190, "view": {"stroke": "#333"},
    "title": {"text": "G", "dx": -27, "fontSize": 15, "offset": 6},
    "encoding": {
      "x": {"type": "quantitative", "scale": {"domain": [0.7302, 0.9533], "nice": false, "zero": false},
            "axis": {"values": [0.75, 0.80, 0.85, 0.90, 0.95], "format": ".2f", "title": "Nomogram-Predicted Probability of 5-Year OS", "domain": false, "tickSize": 3, "labelFontSize": 8, "labelPadding": 3, "titleFontSize": 8, "titlePadding": 6, "labelColor": "#222", "titleColor": "#222"}},
      "y": {"type": "quantitative", "scale": {"domain": [0.5985, 1.0109], "nice": false, "zero": false},
            "axis": {"values": [0.6, 0.7, 0.8, 0.9, 1.0], "format": ".1f", "title": "Actual 5-Year OS (proportion)", "labelAngle": 270, "labelAlign": "center", "labelBaseline": "bottom", "domain": false, "tickSize": 2.5, "labelFontSize": 8, "labelPadding": 0, "titleFontSize": 8, "titlePadding": 0, "labelColor": "#222", "titleColor": "#222"}}
    },
    "layer": [
      {"data": {"name": "rug"}, "transform": [{"filter": "datum.p == 'G'"}], "mark": {"type": "rule", "color": "#C8C8C8", "strokeWidth": 0.8},
       "encoding": {"x": {"field": "x"}, "y": {"datum": 1.0109}, "y2": {"datum": 1.002}}},
      {"data": {"name": "ideal"}, "transform": [{"filter": "datum.p == 'G'"}], "mark": {"type": "line", "strokeDash": [1.5, 2.5], "color": "#333", "strokeWidth": 1.4},
       "encoding": {"x": {"field": "v"}, "y": {"field": "v"}}},
      {"data": {"name": "cal"}, "transform": [{"filter": "datum.p == 'G'"}],
       "layer": [
         {"mark": {"type": "line", "color": "#1F6FBF", "strokeWidth": 2}, "encoding": {"x": {"field": "x"}, "y": {"field": "y"}}},
         {"mark": {"type": "rule", "color": "#1F6FBF", "strokeWidth": 1.5}, "encoding": {"x": {"field": "x"}, "y": {"field": "lo"}, "y2": {"field": "hi"}}},
         {"mark": {"type": "point", "shape": "stroke", "size": 25, "color": "#1F6FBF", "strokeWidth": 1.5, "opacity": 1}, "encoding": {"x": {"field": "x"}, "y": {"field": "lo"}}},
         {"mark": {"type": "point", "shape": "stroke", "size": 25, "color": "#1F6FBF", "strokeWidth": 1.5, "opacity": 1}, "encoding": {"x": {"field": "x"}, "y": {"field": "hi"}}}
       ]}
    ]
   }
 ], "spacing": 35, "bounds": "flush"}
]
}
